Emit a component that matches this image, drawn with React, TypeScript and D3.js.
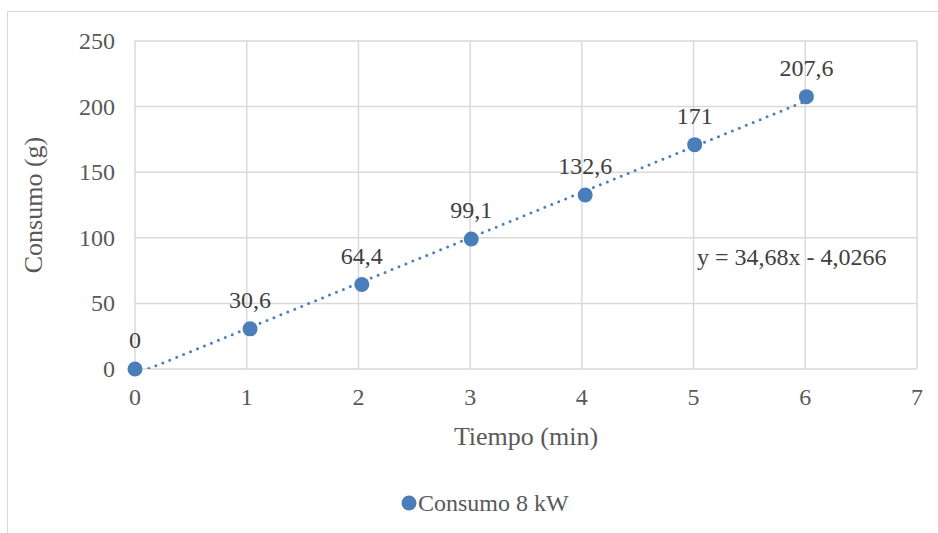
import * as d3 from "d3";

// data
const tiempo = [0, 1.03, 2.03, 3.01, 4.03, 5.01, 6.01];
const consumo = [0, 30.6, 64.4, 99.1, 132.6, 171, 207.6];
const etiquetas = ["0", "30,6", "64,4", "99,1", "132,6", "171", "207,6"];
const xTicks = [0, 1, 2, 3, 4, 5, 6, 7];
const yTicks = [0, 50, 100, 150, 200, 250];
const slope = 34.68;
const intercept = -4.0266;
const serieNombre = "Consumo 8 kW";

const width = 938;
const height = 533;
const margin = { top: 41, right: 21, bottom: 164, left: 135 };
const font = "Liberation Serif, Times New Roman, serif";
const blue = "#4a7ebb";

export default function App() {
	const chartWidth = width - margin.left - margin.right;
	const chartHeight = height - margin.top - margin.bottom;

	const xScale = d3.scaleLinear().domain([0, 7]).range([0, chartWidth]);
	const yScale = d3.scaleLinear().domain([0, 250]).range([chartHeight, 0]);

	const points = tiempo.map((t, i) => ({ x: t, y: consumo[i], label: etiquetas[i] }));

	// linear trend line, clipped to the plot area
	const trendX = [tiempo[0], tiempo[tiempo.length - 1]];
	const trendLine = d3
		.line<number>()
		.x((d) => xScale(d))
		.y((d) => yScale(slope * d + intercept));

	return (
		<svg
			width={width}
			height={height}
			style={{ position: "absolute", left: 0, top: 0, background: "white" }}
		>
			<rect x={7.5} y={11.5} width={width} height={height} fill="white" stroke="#d9d9d9" />
			<defs>
				<clipPath id="plot">
					<rect x={0} y={0} width={chartWidth} height={chartHeight} />
				</clipPath>
			</defs>
			<g transform={`translate(${margin.left},${margin.top})`} fontFamily={font}>
				{yTicks.map((t) => (
					<line
						key={"gy" + t}
						x1={0}
						x2={chartWidth}
						y1={yScale(t)}
						y2={yScale(t)}
						stroke="#d9d9d9"
						strokeWidth={1.5}
					/>
				))}
				{xTicks.map((t) => (
					<line
						key={"gx" + t}
						x1={xScale(t)}
						x2={xScale(t)}
						y1={0}
						y2={chartHeight}
						stroke="#d9d9d9"
						strokeWidth={1.5}
					/>
				))}
				{yTicks.map((t) => (
					<text
						key={"ty" + t}
						x={-20}
						y={yScale(t)}
						dy="0.33em"
						textAnchor="end"
						fontSize={24}
						fill="#595959"
					>
						{t}
					</text>
				))}
				{xTicks.map((t) => (
					<text
						key={"tx" + t}
						x={xScale(t)}
						y={chartHeight + 36}
						textAnchor="middle"
						fontSize={24}
						fill="#595959"
					>
						{t}
					</text>
				))}
				<path
					d={trendLine(trendX) || ""}
					clipPath="url(#plot)"
					fill="none"
					stroke={blue}
					strokeWidth={3}
					strokeDasharray="0 7.5"
					strokeLinecap="round"
				/>
				{points.map((p, i) => (
					<circle key={"p" + i} cx={xScale(p.x)} cy={yScale(p.y)} r={7.5} fill={blue} />
				))}
				{points.map((p, i) => (
					<text
						key={"l" + i}
						x={xScale(p.x)}
						y={yScale(p.y) - 21}
						textAnchor="middle"
						fontSize={24}
						fill="#404040"
					>
						{p.label}
					</text>
				))}
				<text x={562} y={224} fontSize={24} fill="#404040">
					y = 34,68x - 4,0266
				</text>
				<text
					transform={`translate(${33 - margin.left},${chartHeight / 2}) rotate(-90)`}
					textAnchor="middle"
					dy="0.35em"
					fontSize={26}
					fill="#595959"
				>
					Consumo (g)
				</text>
				<text
					x={chartWidth / 2}
					y={chartHeight + 76}
					textAnchor="middle"
					fontSize={26}
					fill="#595959"
				>
					Tiempo (min)
				</text>
				<circle cx={409 - margin.left} cy={503 - margin.top} r={7.5} fill={blue} />
				<text x={418 - margin.left} y={511 - margin.top} fontSize={24} fill="#595959">
					{serieNombre}
				</text>
			</g>
		</svg>
	);
}
